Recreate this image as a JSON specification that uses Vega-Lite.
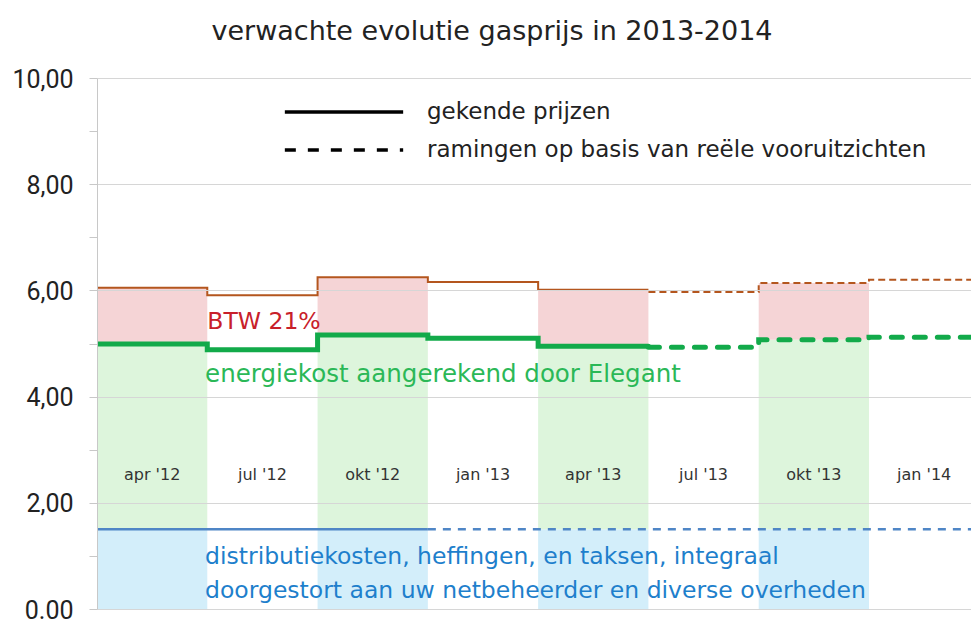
{
  "$schema": "https://vega.github.io/schema/vega-lite/v6.json",
  "width": 874,
  "height": 531,
  "autosize": {"type": "none"},
  "padding": {"left": 97, "top": 78, "right": 0, "bottom": 10},
  "background": "white",
  "title": {
    "text": "verwachte evolutie gasprijs in 2013-2014",
    "font": "DejaVu Sans",
    "fontSize": 27,
    "fontWeight": "normal",
    "color": "#222222",
    "anchor": "middle",
    "dx": -42,
    "offset": 5
  },
  "config": {
    "view": {"stroke": null},
    "text": {"font": "DejaVu Sans"},
    "legend": {
      "orient": "none",
      "title": null,
      "symbolType": "stroke",
      "symbolSize": 14000,
      "symbolStrokeWidth": 3.5,
      "symbolStrokeColor": "#000000",
      "labelFont": "DejaVu Sans",
      "labelFontSize": 23,
      "labelColor": "#222222",
      "labelOffset": 22,
      "labelLimit": 700
    }
  },
  "datasets": {
    "kwartalen": [
      {"kwartaal": "apr '12", "s": 0, "e": 1, "distributie": 1.5, "energie": 4.99, "totaal": 6.05, "gekleurd": true},
      {"kwartaal": "jul '12", "s": 1, "e": 2, "distributie": 1.5, "energie": 4.88, "totaal": 5.91, "gekleurd": false},
      {"kwartaal": "okt '12", "s": 2, "e": 3, "distributie": 1.5, "energie": 5.16, "totaal": 6.25, "gekleurd": true},
      {"kwartaal": "jan '13", "s": 3, "e": 4, "distributie": 1.5, "energie": 5.10, "totaal": 6.16, "gekleurd": false},
      {"kwartaal": "apr '13", "s": 4, "e": 5, "distributie": 1.5, "energie": 4.95, "totaal": 6.01, "gekleurd": true},
      {"kwartaal": "jul '13", "s": 5, "e": 6, "distributie": 1.5, "energie": 4.93, "totaal": 5.97, "gekleurd": false},
      {"kwartaal": "okt '13", "s": 6, "e": 7, "distributie": 1.5, "energie": 5.07, "totaal": 6.14, "gekleurd": true},
      {"kwartaal": "jan '14", "s": 7, "e": 8, "distributie": 1.5, "energie": 5.12, "totaal": 6.20, "gekleurd": false}
    ],
    "lijnen": [
      {"reeks": "totaal", "status": "gekende prijzen", "x": 0, "waarde": 6.05},
      {"reeks": "totaal", "status": "gekende prijzen", "x": 1, "waarde": 5.91},
      {"reeks": "totaal", "status": "gekende prijzen", "x": 2, "waarde": 6.25},
      {"reeks": "totaal", "status": "gekende prijzen", "x": 3, "waarde": 6.16},
      {"reeks": "totaal", "status": "gekende prijzen", "x": 4, "waarde": 6.01},
      {"reeks": "totaal", "status": "gekende prijzen", "x": 5, "waarde": 6.01},
      {"reeks": "totaal", "status": "ramingen op basis van reële vooruitzichten", "x": 5, "waarde": 5.97},
      {"reeks": "totaal", "status": "ramingen op basis van reële vooruitzichten", "x": 6, "waarde": 6.14},
      {"reeks": "totaal", "status": "ramingen op basis van reële vooruitzichten", "x": 7, "waarde": 6.20},
      {"reeks": "totaal", "status": "ramingen op basis van reële vooruitzichten", "x": 8, "waarde": 6.20},
      {"reeks": "energie", "status": "gekende prijzen", "x": 0, "waarde": 4.99},
      {"reeks": "energie", "status": "gekende prijzen", "x": 1, "waarde": 4.88},
      {"reeks": "energie", "status": "gekende prijzen", "x": 2, "waarde": 5.16},
      {"reeks": "energie", "status": "gekende prijzen", "x": 3, "waarde": 5.10},
      {"reeks": "energie", "status": "gekende prijzen", "x": 4, "waarde": 4.95},
      {"reeks": "energie", "status": "gekende prijzen", "x": 5, "waarde": 4.95},
      {"reeks": "energie", "status": "ramingen op basis van reële vooruitzichten", "x": 5, "waarde": 4.93},
      {"reeks": "energie", "status": "ramingen op basis van reële vooruitzichten", "x": 6, "waarde": 5.07},
      {"reeks": "energie", "status": "ramingen op basis van reële vooruitzichten", "x": 7, "waarde": 5.12},
      {"reeks": "energie", "status": "ramingen op basis van reële vooruitzichten", "x": 8, "waarde": 5.12},
      {"reeks": "distributie", "status": "gekende prijzen", "x": 0, "waarde": 1.5},
      {"reeks": "distributie", "status": "gekende prijzen", "x": 3, "waarde": 1.5},
      {"reeks": "distributie", "status": "ramingen op basis van reële vooruitzichten", "x": 3, "waarde": 1.5},
      {"reeks": "distributie", "status": "ramingen op basis van reële vooruitzichten", "x": 8, "waarde": 1.5}
    ]
  },
  "layer": [
    {
      "data": {"name": "kwartalen"},
      "transform": [{"filter": "datum.gekleurd"}],
      "mark": {"type": "rect", "color": "#d3eefa", "clip": true},
      "encoding": {
        "x": {"field": "s", "type": "quantitative", "scale": {"domain": [0, 7.925], "nice": false, "zero": false}, "axis": null},
        "x2": {"field": "e"},
        "y": {
          "field": "distributie",
          "type": "quantitative",
          "scale": {"domain": [0, 10], "nice": false, "zero": true},
          "axis": {
            "title": null,
            "values": [0, 1, 2, 3, 4, 5, 6, 7, 8, 9, 10],
            "labelExpr": "datum.value % 2 == 1 ? '' : (datum.value == 0 ? '0.00' : replace(format(datum.value, '.2f'), '.', ','))",
            "labelFont": "Roboto",
            "labelFontSize": 25,
            "labelColor": "#222222",
            "labelPadding": 16,
            "labelBaseline": "alphabetic",
            "labelOffset": 9,
            "tickSize": 8,
            "tickColor": "#c8c8c8",
            "domainColor": "#c8c8c8",
            "grid": true,
            "gridColor": "#d6d6d6",
            "gridOpacity": {"condition": {"test": "datum.value % 2 == 1", "value": 0}, "value": 1},
            "zindex": 1
          }
        },
        "y2": {"datum": 0}
      }
    },
    {
      "data": {"name": "kwartalen"},
      "transform": [{"filter": "datum.gekleurd"}],
      "mark": {"type": "rect", "color": "#ddf5dc", "clip": true},
      "encoding": {
        "x": {"field": "s", "type": "quantitative"},
        "x2": {"field": "e"},
        "y": {"field": "distributie", "type": "quantitative"},
        "y2": {"field": "energie"}
      }
    },
    {
      "data": {"name": "kwartalen"},
      "transform": [{"filter": "datum.gekleurd"}],
      "mark": {"type": "rect", "color": "#f5d4d6", "clip": true},
      "encoding": {
        "x": {"field": "s", "type": "quantitative"},
        "x2": {"field": "e"},
        "y": {"field": "energie", "type": "quantitative"},
        "y2": {"field": "totaal"}
      }
    },
    {
      "data": {"name": "lijnen"},
      "transform": [{"filter": "datum.reeks == 'distributie'"}],
      "mark": {"type": "line", "interpolate": "step-after", "color": "#4f86c6", "strokeWidth": 2.5, "clip": true},
      "encoding": {
        "x": {"field": "x", "type": "quantitative"},
        "y": {"field": "waarde", "type": "quantitative"},
        "strokeDash": {
          "field": "status", "type": "nominal",
          "scale": {"domain": ["gekende prijzen", "ramingen op basis van reële vooruitzichten"], "range": [[1, 0], [8, 7]]},
          "legend": null
        }
      }
    },
    {
      "data": {"name": "lijnen"},
      "transform": [{"filter": "datum.reeks == 'totaal'"}],
      "mark": {"type": "line", "interpolate": "step-after", "color": "#b4561e", "strokeWidth": 2, "clip": true},
      "encoding": {
        "x": {"field": "x", "type": "quantitative"},
        "y": {"field": "waarde", "type": "quantitative"},
        "strokeDash": {
          "field": "status", "type": "nominal",
          "scale": {"domain": ["gekende prijzen", "ramingen op basis van reële vooruitzichten"], "range": [[1, 0], [7, 4]]},
          "legend": {
            "values": ["gekende prijzen"],
            "legendX": 186,
            "legendY": -27
          }
        }
      }
    },
    {
      "data": {"name": "lijnen"},
      "transform": [{"filter": "datum.reeks == 'energie'"}],
      "mark": {"type": "line", "interpolate": "step-after", "color": "#12aa4a", "strokeWidth": 5, "strokeCap": "round", "clip": true},
      "encoding": {
        "x": {"field": "x", "type": "quantitative"},
        "y": {"field": "waarde", "type": "quantitative"},
        "strokeDash": {
          "field": "status", "type": "nominal",
          "scale": {"domain": ["gekende prijzen", "ramingen op basis van reële vooruitzichten"], "range": [[1, 0], [11, 12]]},
          "legend": {
            "values": ["ramingen op basis van reële vooruitzichten"],
            "legendX": 186,
            "legendY": 11
          }
        }
      }
    },
    {
      "data": {"name": "kwartalen"},
      "transform": [{"calculate": "datum.s + 0.5", "as": "midden"}],
      "mark": {"type": "text", "fontSize": 16, "color": "#333333", "font": "DejaVu Sans"},
      "encoding": {
        "x": {"field": "midden", "type": "quantitative"},
        "y": {"datum": 2.52, "type": "quantitative"},
        "text": {"field": "kwartaal"}
      }
    },
    {
      "data": {"values": [{"label": "BTW 21%"}]},
      "mark": {"type": "text", "align": "left", "baseline": "middle", "fontSize": 23.5, "color": "#c8202a", "font": "DejaVu Sans"},
      "encoding": {
        "x": {"datum": 1.0, "type": "quantitative"},
        "y": {"datum": 5.4, "type": "quantitative"},
        "text": {"field": "label"}
      }
    },
    {
      "data": {"values": [{"label": "energiekost aangerekend door Elegant"}]},
      "mark": {"type": "text", "align": "left", "baseline": "middle", "fontSize": 24.5, "color": "#2bb857", "font": "DejaVu Sans"},
      "encoding": {
        "x": {"datum": 0.98, "type": "quantitative"},
        "y": {"datum": 4.4, "type": "quantitative"},
        "text": {"field": "label"}
      }
    },
    {
      "data": {"values": [{"label": ["distributiekosten, heffingen, en taksen, integraal", "doorgestort aan uw netbeheerder en diverse overheden"]}]},
      "mark": {"type": "text", "align": "left", "baseline": "middle", "fontSize": 23.5, "lineHeight": 34, "color": "#1e7fcc", "font": "DejaVu Sans"},
      "encoding": {
        "x": {"datum": 0.98, "type": "quantitative"},
        "y": {"datum": 0.98, "type": "quantitative"},
        "text": {"field": "label"}
      }
    }
  ],
  "resolve": {"scale": {"strokeDash": "independent"}}
}
